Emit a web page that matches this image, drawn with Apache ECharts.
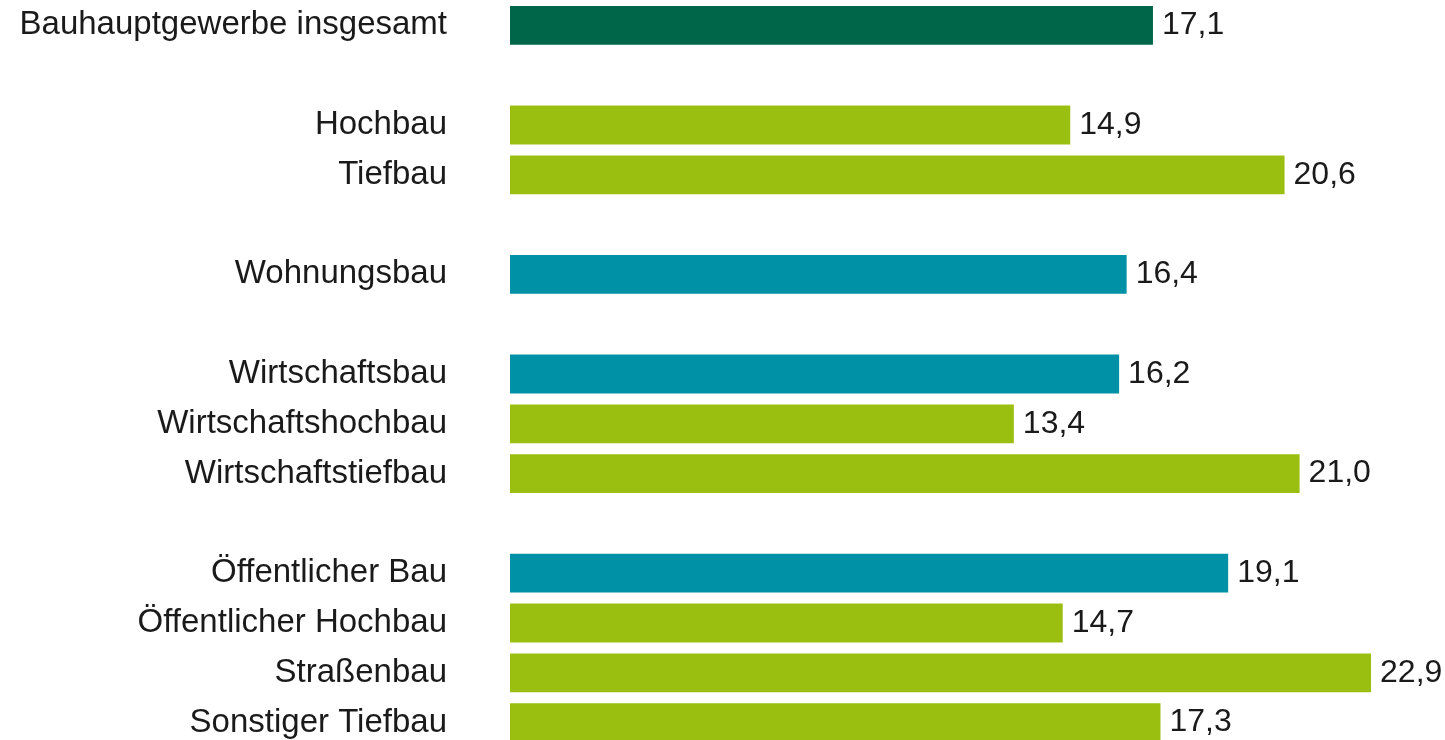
<!DOCTYPE html>
<html>
<head>
<meta charset="utf-8">
<script src="https://cdn.jsdelivr.net/npm/echarts@6/dist/echarts.min.js"></script>
<style>
  html, body { margin: 0; padding: 0; background: #fff; overflow: hidden; }
  #chart { width: 1470px; height: 760px; }
</style>
</head>
<body>
<div id="chart"></div>
<script>
// categories top to bottom, '' = empty spacer row
var categories = [
  'Bauhauptgewerbe insgesamt', '',
  'Hochbau', 'Tiefbau', '',
  'Wohnungsbau', '',
  'Wirtschaftsbau', 'Wirtschaftshochbau', 'Wirtschaftstiefbau', '',
  'Öffentlicher Bau', 'Öffentlicher Hochbau', 'Straßenbau', 'Sonstiger Tiefbau'
];
var values = [17.1, null, 14.9, 20.6, null, 16.4, null, 16.2, 13.4, 21.0, null, 19.1, 14.7, 22.9, 17.3];
// t = total, s = sector, u = sub
var kinds = ['t', '', 'u', 'u', '', 's', '', 's', 'u', 'u', '', 's', 'u', 'u', 'u'];
var colors = { t: '#00664a', s: '#0091a6', u: '#9bbf10' };

var barData = values.map(function (v, i) {
  if (v === null) return '-';
  return { value: v, itemStyle: { color: colors[kinds[i]] } };
});

var chart = echarts.init(document.getElementById('chart'));
chart.setOption({
  animation: false,
  grid: { left: 510, top: 0.5, width: 940, height: 747 },
  xAxis: {
    type: 'value', min: 0, max: 25, show: false
  },
  yAxis: {
    type: 'category',
    inverse: true,
    data: categories,
    axisLine: { show: false },
    axisTick: { show: false },
    splitLine: { show: false },
    axisLabel: {
      margin: 63,
      fontFamily: 'Liberation Sans',
      fontSize: 33,
      color: '#1a1a1a'
    }
  },
  series: [{
    type: 'bar',
    data: barData,
    barCategoryGap: '22%',
    label: {
      show: true,
      position: 'right',
      distance: 9,
      fontFamily: 'Liberation Sans',
      fontSize: 32,
      color: '#1a1a1a',
      formatter: function (p) { return p.value.toFixed(1).replace('.', ','); }
    }
  }]
});
</script>
</body>
</html>
